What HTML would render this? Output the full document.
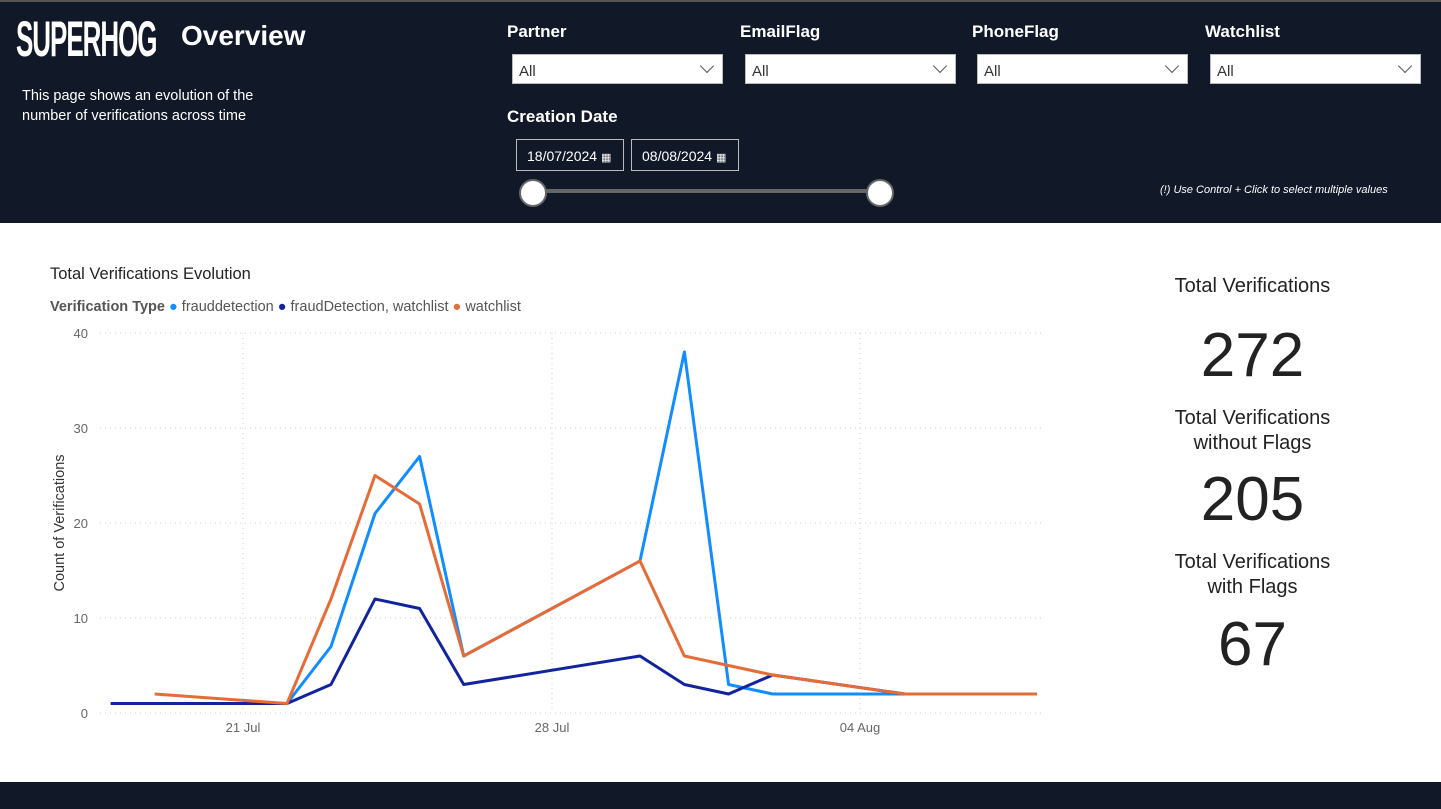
<!DOCTYPE html>
<html><head><meta charset="utf-8"><style>
*{margin:0;padding:0;box-sizing:border-box}
body{width:1441px;height:809px;overflow:hidden;background:#fff;font-family:"Liberation Sans",sans-serif;position:relative}
.hdr{position:absolute;left:0;top:0;width:1441px;height:223px;background:#111827;border-top:2px solid #555}
.ftr{position:absolute;left:0;top:782px;width:1441px;height:27px;background:#111827}
.t{position:absolute;color:#fff;white-space:nowrap}
.dd{position:absolute;width:211px;height:30px;background:#fff;border:1px solid #bbb;font-size:15px;color:#333;padding:8px 0 0 6px}
.dd:after{content:"";position:absolute;right:10px;top:6px;width:9px;height:9px;border-right:1.5px solid #555;border-bottom:1.5px solid #555;transform:rotate(45deg)}
.date{position:absolute;height:32px;border:1px solid #bbb;color:#fff;font-size:14px;padding:8px 0 0 10px}
.knob{position:absolute;width:28px;height:28px;border-radius:50%;background:#fff;border:2px solid #666}
.kpi{position:absolute;left:1130px;width:245px;text-align:center;color:#222}
.num{font-family:"Liberation Sans Narrow","Liberation Sans",sans-serif}
</style></head><body>
<div class="hdr"></div>
<div class="t" style="left:16px;top:10px;font-size:50px;font-weight:bold;letter-spacing:-2px;transform:scaleX(0.52);transform-origin:left">SUPERHOG</div>
<div class="t" style="left:181px;top:20px;font-size:28px;font-weight:bold">Overview</div>
<div class="t" style="left:22px;top:86px;font-size:14.5px;line-height:20px">This page shows an evolution of the<br>number of verifications across time</div>
<div class="t" style="left:507px;top:22px;font-size:17px;font-weight:bold">Partner</div>
<div class="t" style="left:740px;top:22px;font-size:17px;font-weight:bold">EmailFlag</div>
<div class="t" style="left:972px;top:22px;font-size:17px;font-weight:bold">PhoneFlag</div>
<div class="t" style="left:1205px;top:22px;font-size:17px;font-weight:bold">Watchlist</div>
<div class="dd" style="left:512px;top:54px">All</div>
<div class="dd" style="left:745px;top:54px">All</div>
<div class="dd" style="left:977px;top:54px">All</div>
<div class="dd" style="left:1210px;top:54px">All</div>
<div class="t" style="left:507px;top:107px;font-size:17px;font-weight:bold">Creation Date</div>
<div class="date" style="left:516px;top:139px;width:108px">18/07/2024 <span style="font-size:11px">▦</span></div>
<div class="date" style="left:631px;top:139px;width:108px">08/08/2024 <span style="font-size:11px">▦</span></div>
<div style="position:absolute;left:532px;top:189px;width:350px;height:4px;background:#666"></div>
<div class="knob" style="left:519px;top:179px"></div>
<div class="knob" style="left:866px;top:179px"></div>
<div class="t" style="left:1160px;top:184px;font-size:11px;font-style:italic">(!) Use Control + Click to select multiple values</div>
<div class="ftr"></div>

<div style="position:absolute;left:50px;top:265px;font-size:16.5px;color:#252423">Total Verifications Evolution</div>
<div style="position:absolute;left:50px;top:299px;font-size:14.5px;color:#555;white-space:nowrap"><b>Verification Type</b> <span style="color:#118DFF">●</span> frauddetection <span style="color:#12239E">●</span> fraudDetection, watchlist <span style="color:#E66C37">●</span> watchlist</div>

<svg style="position:absolute;left:0;top:0" width="1441" height="809">
<g stroke="#ccc" stroke-dasharray="1 4" stroke-width="1">
<line x1="100" x2="1045" y1="333" y2="333"/><line x1="100" x2="1045" y1="428" y2="428"/><line x1="100" x2="1045" y1="523" y2="523"/><line x1="100" x2="1045" y1="618" y2="618"/><line x1="100" x2="1045" y1="713" y2="713"/>
<line x1="243" x2="243" y1="333" y2="713"/><line x1="552" x2="552" y1="333" y2="713"/><line x1="860" x2="860" y1="333" y2="713"/>
</g>
<g font-size="13" fill="#666" text-anchor="end" font-family="Liberation Sans,sans-serif">
<text x="88" y="338">40</text><text x="88" y="433">30</text><text x="88" y="528">20</text><text x="88" y="623">10</text><text x="88" y="718">0</text>
</g>
<g font-size="13" fill="#666" text-anchor="middle" font-family="Liberation Sans,sans-serif">
<text x="243" y="732">21 Jul</text><text x="552" y="732">28 Jul</text><text x="860" y="732">04 Aug</text>
</g>
<text transform="translate(64,523) rotate(-90)" font-size="14.5" fill="#333" text-anchor="middle" font-family="Liberation Sans,sans-serif">Count of Verifications</text>
<g fill="none" stroke-width="3" stroke-linejoin="round">
<polyline stroke="#118DFF" points="287,703.5 331,646.5 375,513.5 419.6,456.5 463.7,656 640,561 684.4,352 728.6,684.5 772.7,694 1037,694"/>
<polyline stroke="#12239E" points="110.6,703.5 287,703.5 331,684.5 375,599 419.6,608.5 463.7,684.5 640,656 684.4,684.5 728.6,694 772.7,675 905,694 1037,694"/>
<polyline stroke="#E66C37" points="154.7,694 287,703.5 331,599 375,475.5 419.6,504 463.7,656 640,561 684.4,656 772.7,675 905,694 1037,694"/>
</g>
</svg>

<div class="kpi" style="top:275px;font-size:20px">Total Verifications</div>
<div class="kpi num" style="top:320px;font-size:62px">272</div>
<div class="kpi" style="top:406px;font-size:20px;line-height:25px">Total Verifications<br>without Flags</div>
<div class="kpi num" style="top:464px;font-size:62px">205</div>
<div class="kpi" style="top:550px;font-size:20px;line-height:25px">Total Verifications<br>with Flags</div>
<div class="kpi num" style="top:609px;font-size:62px">67</div>
</body></html>
